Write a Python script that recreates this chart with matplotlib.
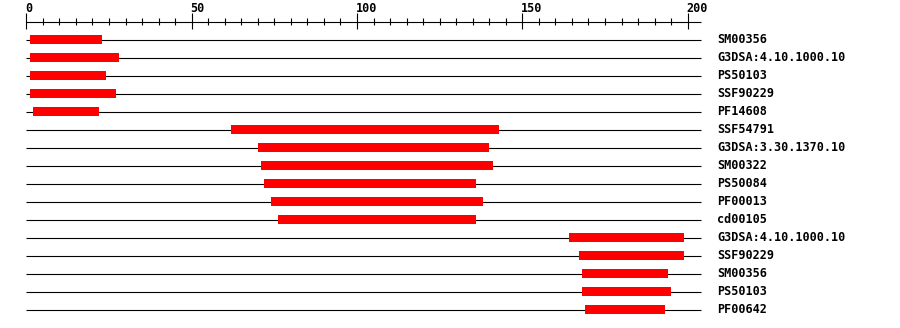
import numpy as np
import matplotlib.pyplot as plt

# domain hits along a protein sequence
labels = ["SM00356", "G3DSA:4.10.1000.10", "PS50103", "SSF90229", "PF14608",
          "SSF54791", "G3DSA:3.30.1370.10", "SM00322", "PS50084", "PF00013",
          "cd00105", "G3DSA:4.10.1000.10", "SSF90229", "SM00356", "PS50103",
          "PF00642"]
starts = [1, 1, 1, 1, 2, 62, 70, 71, 72, 74, 76, 164, 167, 168, 168, 169]
ends = [23, 28, 24, 27, 22, 143, 140, 141, 136, 138, 136, 199, 199, 194, 195, 193]
seq_len = 204
ruler_ticks = np.arange(0, 201, 5)

# layout in pixels
px = 3.307      # pixels per residue
x0 = 26.3       # pixel of residue 0
row_top = 39.6
row_step = 18

fig = plt.figure(figsize=(9, 3.28), dpi=100)
ax = fig.add_axes([0, 0, 1, 1])
ax.axis("off")
ax.set_xlim(-x0 / px, (900 - x0) / px)
ax.set_ylim(328, 0)

font = dict(family="DejaVu Sans Mono", weight="bold", size=8.5)

# ruler
ax.hlines(21.5, 0, seq_len, color="black", lw=0.8)
for t in ruler_ticks:
    if t % 50 == 0:
        ax.vlines(t, 13.3, 28.5, color="black", lw=0.8)
        ax.text(t - 0.3, 12.5, str(t), ha="left", va="baseline", **font)
    else:
        ax.vlines(t, 17.8, 25, color="black", lw=0.8)

# rows
ys = row_top + row_step * np.arange(len(labels))
ax.hlines(ys, 0, seq_len, color="black", lw=0.8)
ax.barh(ys, np.array(ends) - np.array(starts), left=starts, height=9,
        color="#ff0000", zorder=3)
for y, lab in zip(ys, labels):
    ax.text(seq_len + 16 / px, y - 0.3, lab, ha="left", va="center", **font)

fig.savefig("out.png", dpi=100)
